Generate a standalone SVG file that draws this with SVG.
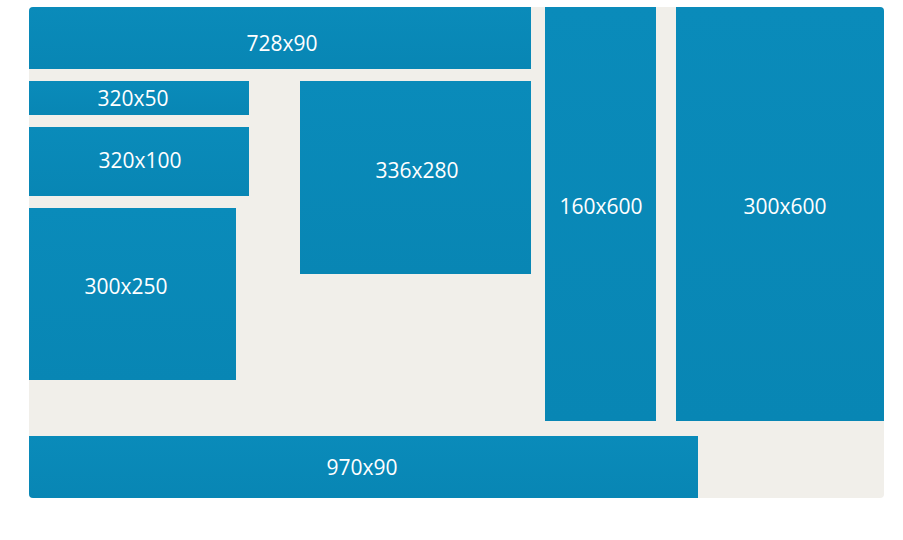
<svg xmlns="http://www.w3.org/2000/svg" width="903" height="540" viewBox="0 0 903 540">
<defs>
<linearGradient id="g" x1="0" y1="0" x2="0" y2="1">
<stop offset="0" stop-color="#0A8BBA"/>
<stop offset="1" stop-color="#0886B4"/>
</linearGradient>
</defs>
<style>
.b{fill:url(#g);}
.t{fill:#FFFFFF;font-family:"Open Sans","Liberation Sans",sans-serif;font-size:21px;text-anchor:middle;dominant-baseline:central;}
</style>
<rect x="0" y="0" width="903" height="540" fill="#FFFFFF"/>
<rect id="panel" x="29" y="7" width="855" height="491" rx="4" fill="#F1EFEA"/>
<g id="n728x90"><path class="b" d="M33 7H531V69H29V11A4 4 0 0 1 33 7Z"/><text class="t" x="282" y="43">728x90</text></g>
<g id="n320x50"><rect class="b" x="29" y="81" width="220" height="34"/><text class="t" x="133" y="98">320x50</text></g>
<g id="n320x100"><rect class="b" x="29" y="127" width="220" height="69"/><text class="t" x="140" y="160">320x100</text></g>
<g id="n300x250"><rect class="b" x="29" y="208" width="207" height="172"/><text class="t" x="126" y="286">300x250</text></g>
<g id="n336x280"><rect class="b" x="300" y="81" width="231" height="193"/><text class="t" x="417" y="170">336x280</text></g>
<g id="n160x600"><rect class="b" x="545" y="7" width="111" height="414"/><text class="t" x="601" y="206">160x600</text></g>
<g id="n300x600"><path class="b" d="M676 7H880A4 4 0 0 1 884 11V421H676Z"/><text class="t" x="785" y="206">300x600</text></g>
<g id="n970x90"><path class="b" d="M29 436H698V498H33A4 4 0 0 1 29 494Z"/><text class="t" x="362" y="467">970x90</text></g>
<g id="connectors"></g>
</svg>
